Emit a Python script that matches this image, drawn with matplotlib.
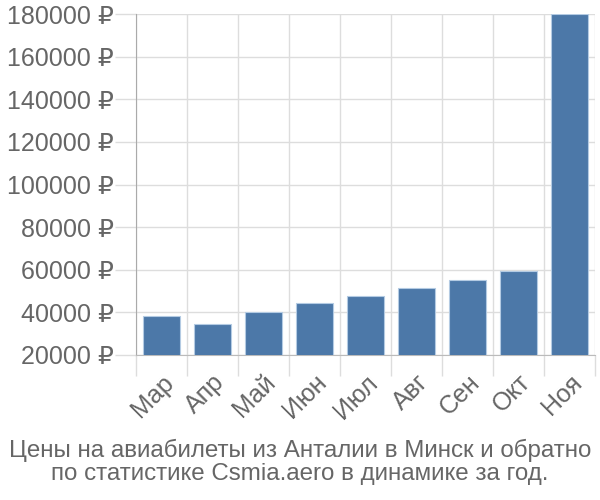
import matplotlib
matplotlib.use("Agg")
import matplotlib.pyplot as plt
import numpy as np

plt.rcParams['font.family'] = ['Liberation Sans', 'DejaVu Sans']

months = ["Мар", "Апр", "Май", "Июн", "Июл", "Авг", "Сен", "Окт", "Ноя"]
prices = [38300, 34700, 40200, 44500, 47800, 51600, 55000, 59600, 180000]
yticks = [20000, 40000, 60000, 80000, 100000, 120000, 140000, 160000, 180000]
title = "Цены на авиабилеты из Анталии в Минск и обратно\nпо статистике Csmia.aero в динамике за год."

fig = plt.figure(figsize=(6, 5), dpi=100)
ax = fig.add_axes([0.2267, 0.29, 0.765, 0.682])

x = np.arange(len(months))
ax.bar(x, prices, width=0.72, color="#4c78a8", edgecolor="#b4cbe3", linewidth=0.8, zorder=3)

ax.set_xlim(-0.5, len(months) - 0.5)
ax.set_ylim(20000, 180000)

ax.set_yticks(yticks)
ax.set_yticklabels([f"{v} ₽" for v in yticks], fontsize=18, color="#666666")
ax.set_xticks(x)
ax.set_xticklabels(months, rotation=45, ha="right", rotation_mode="anchor", fontsize=18, color="#666666")
ax.set_xticks(np.arange(-0.5, len(months)), minor=True)

ax.tick_params(axis="x", which="major", length=0, pad=11)
ax.tick_params(axis="x", which="minor", length=15, color="#dddddd", width=1)
ax.tick_params(axis="y", which="major", length=15, color="#dddddd", width=1, pad=1)

ax.grid(axis="y", which="major", color="#dddddd", linewidth=1, zorder=0)
ax.grid(axis="x", which="minor", color="#dddddd", linewidth=1, zorder=0)

for s in ["top", "right"]:
    ax.spines[s].set_visible(False)
ax.spines["left"].set_color("#aaaaaa")
ax.spines["bottom"].set_color("#bbbbbb")

fig.text(0.5, 0.03, title, ha="center", va="bottom", fontsize=17.4, color="#666666", linespacing=1.08)

fig.savefig("out.png", dpi=100)
